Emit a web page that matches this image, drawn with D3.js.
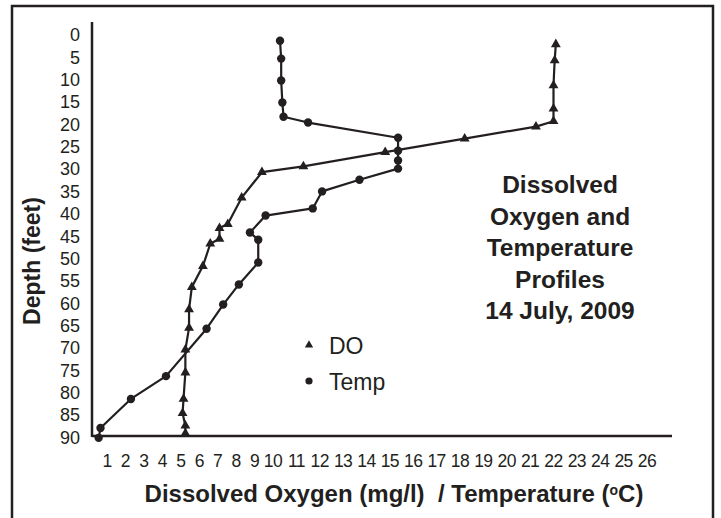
<!DOCTYPE html>
<html>
<head>
<meta charset="utf-8">
<script src="https://cdn.jsdelivr.net/npm/d3@7"></script>
<style>
  html, body { margin: 0; padding: 0; background: #fff; }
  svg { display: block; font-family: "Liberation Sans", Arial, sans-serif; }
</style>
</head>
<body>
<svg id="chart" width="721" height="518"></svg>
<script>
// ---- data (depth in feet, value on the shared x axis) ----
const doDepth = [2.3, 5.9, 11.5, 16.7, 19.5, 20.7, 23.4, 26.4, 29.6, 30.9, 36.6, 42.5, 43.4, 45.8, 46.9, 51.9, 56.6, 61.6, 65.7, 70.6, 75.7, 81.6, 84.8, 87.6, 89.3];
const doValue = [22.1, 22.05, 22.0, 22.0, 22.0, 21.25, 18.2, 14.8, 11.3, 9.4, 8.3, 7.55, 7.1, 7.1, 6.6, 6.2, 5.6, 5.45, 5.45, 5.25, 5.25, 5.15, 5.1, 5.25, 5.25];
const tempDepth = [1.5, 5.5, 10.4, 15.3, 18.5, 19.8, 23.2, 26.1, 28.3, 30.1, 32.6, 35.2, 39.0, 40.6, 44.4, 46.0, 51.1, 56.0, 60.5, 65.9, 76.5, 81.6, 88.1, 90.3];
const tempValue = [10.3, 10.35, 10.35, 10.4, 10.45, 11.5, 15.35, 15.35, 15.35, 15.35, 13.7, 12.1, 11.7, 9.6, 8.75, 9.2, 9.2, 8.15, 7.3, 6.4, 4.2, 2.3, 0.65, 0.55];
const depthTicks = d3.range(0, 91, 5);
const xTicks = d3.range(1, 27);
const titleLines = ["Dissolved", "Oxygen and", "Temperature", "Profiles", "14 July, 2009"];
const legendLabels = ["DO", "Temp"];
const xTitle = "Dissolved Oxygen (mg/l)  / Temperature (";
const yTitle = "Depth (feet)";

// ---- layout ----
const ink = "#231f20";
const svg = d3.select("#chart");
const axisLeft = 92, axisRight = 672, axisTop = 22, axisBottom = 436;

// x scale: labels are packed tighter for single digits than double digits
const x = d3.scaleLinear().domain([0, 10, 26]).range([88.5, 273, 647]);
const y = d3.scaleLinear().domain([0, 90]).range([34, 436.5]);

// frame
svg.append("rect").attr("x", 12).attr("y", 6).attr("width", 701).attr("height", 560)
  .attr("fill", "none").attr("stroke", ink).attr("stroke-width", 2.5);

// axes lines
svg.append("line").attr("x1", axisLeft).attr("x2", axisLeft).attr("y1", axisTop).attr("y2", axisBottom + 1)
  .attr("stroke", ink).attr("stroke-width", 2.5);
svg.append("line").attr("x1", axisLeft).attr("x2", axisRight).attr("y1", axisBottom).attr("y2", axisBottom)
  .attr("stroke", ink).attr("stroke-width", 2.5);

// y tick labels
svg.append("g").selectAll("text").data(depthTicks).join("text")
  .attr("x", 80).attr("y", d => y(d) + 1).attr("dy", "0.35em")
  .attr("text-anchor", "end").attr("font-size", 18).attr("fill", ink)
  .text(d => d);

// x tick labels
svg.append("g").selectAll("text").data(xTicks).join("text")
  .attr("x", d => x(d)).attr("y", 467)
  .attr("text-anchor", "middle").attr("font-size", 17.5).attr("fill", ink)
  .style("letter-spacing", "-0.6px")
  .text(d => d);

// lines
const line = d3.line().x(d => x(d[1])).y(d => y(d[0]));
const doPts = doDepth.map((d, i) => [d, doValue[i]]);
const tempPts = tempDepth.map((d, i) => [d, tempValue[i]]);

svg.append("path").datum(tempPts).attr("d", line)
  .attr("fill", "none").attr("stroke", ink).attr("stroke-width", 2.2).attr("stroke-linejoin", "round");
svg.append("path").datum(doPts).attr("d", line)
  .attr("fill", "none").attr("stroke", ink).attr("stroke-width", 2.2).attr("stroke-linejoin", "round");

const tri = d3.symbol().type(d3.symbolTriangle).size(42);
svg.append("g").selectAll("path").data(doPts).join("path")
  .attr("d", tri).attr("transform", d => `translate(${x(d[1])},${y(d[0])})`).attr("fill", ink);
svg.append("g").selectAll("circle").data(tempPts).join("circle")
  .attr("cx", d => x(d[1])).attr("cy", d => y(d[0])).attr("r", 4.2).attr("fill", ink);

// legend
const legTri = d3.symbol().type(d3.symbolTriangle).size(30);
svg.append("path").attr("d", legTri).attr("transform", "translate(309,345)").attr("fill", ink);
svg.append("circle").attr("cx", 309).attr("cy", 381).attr("r", 3.6).attr("fill", ink);
svg.append("text").attr("x", 329).attr("y", 354).attr("font-size", 23).attr("fill", ink).text(legendLabels[0]);
svg.append("text").attr("x", 329).attr("y", 390).attr("font-size", 23).attr("fill", ink).text(legendLabels[1]);

// title
svg.append("g").selectAll("text").data(titleLines).join("text")
  .attr("x", 560).attr("y", (d, i) => 193 + i * 31.5)
  .attr("text-anchor", "middle").attr("font-size", 24.5).attr("font-weight", "bold").attr("fill", ink)
  .text(d => d);

// x axis title
const xt = svg.append("text").attr("x", 394).attr("y", 502)
  .attr("text-anchor", "middle").attr("font-size", 24).attr("font-weight", "bold").attr("fill", ink)
  .style("white-space", "pre").attr("xml:space", "preserve");
xt.append("tspan").text(xTitle);
xt.append("tspan").attr("font-size", 14).attr("dy", -7).text("o");
xt.append("tspan").attr("dy", 7).text("C)");

// y axis title
svg.append("text").attr("transform", "translate(40,261) rotate(-90)")
  .attr("text-anchor", "middle").attr("font-size", 23).attr("font-weight", "bold").attr("fill", ink)
  .text(yTitle);
</script>
</body>
</html>
